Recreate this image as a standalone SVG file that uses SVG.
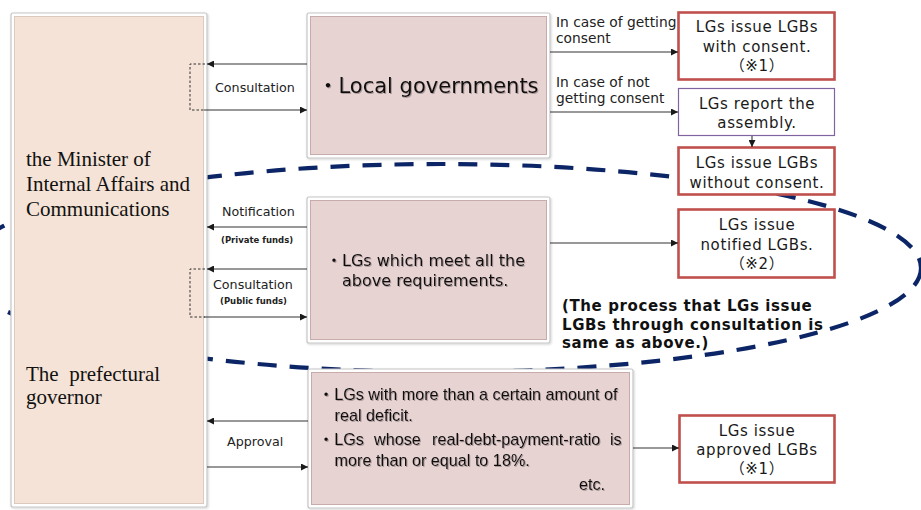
<svg xmlns="http://www.w3.org/2000/svg" width="921" height="510" viewBox="0 0 921 510">
  <defs>
    <marker id="arr" viewBox="0 0 7 7" markerWidth="7" markerHeight="7" refX="7" refY="3.5" orient="auto" markerUnits="userSpaceOnUse">
      <path d="M0,0 L7,3.5 L0,7 z" fill="#1a1a1a"/>
    </marker>
    <filter id="tshadow" x="-5%" y="-20%" width="110%" height="140%">
      <feDropShadow dx="1" dy="1" stdDeviation="0.5" flood-color="#7a6a6a" flood-opacity="0.55"/>
    </filter>
    <filter id="bshadow" x="-5%" y="-5%" width="110%" height="110%">
      <feDropShadow dx="0.8" dy="1" stdDeviation="0.8" flood-color="#000" flood-opacity="0.18"/>
    </filter>
  </defs>
  <style>
    .frame { fill: #ffffff; stroke: #c6c6c6; stroke-width: 1.2; filter: url(#bshadow); }
    .peach { fill: #f4e3d6; stroke: #dccbbd; stroke-width: 1; }
    .pink { fill: #e8d3d3; stroke: #c8acac; stroke-width: 1; }
    .red { fill: #ffffff; stroke: #c0504d; stroke-width: 2.6; }
    .purple { fill: #ffffff; stroke: #8064a2; stroke-width: 1.2; }
    .line { fill: none; stroke: #333333; stroke-width: 1.1; }
    .arrow { fill: none; stroke: #333333; stroke-width: 1.1; marker-end: url(#arr); }
    .bracket { fill: none; stroke: #333333; stroke-width: 1; stroke-dasharray: 2.5 2; }
    .oval { fill: none; stroke: #0b2566; stroke-width: 4.2; stroke-dasharray: 19 13; }
    .serif { font-family: "Liberation Serif", "Times New Roman", serif; font-size: 21px; fill: #111111; }
    .lbl { font-family: "DejaVu Sans", Verdana, sans-serif; font-size: 12.7px; fill: #222222; }
    .case { font-family: "DejaVu Sans", Verdana, sans-serif; font-size: 13.8px; fill: #222222; }
    .tiny { font-family: "DejaVu Sans", Verdana, sans-serif; font-size: 8.5px; font-weight: bold; fill: #222222; }
    .rt { font-family: "DejaVu Sans", Verdana, "Noto Sans CJK JP", sans-serif; font-size: 15px; letter-spacing: 0.6px; fill: #1a1a1a; text-anchor: middle; }
    .big { font-family: "DejaVu Sans", Verdana, "Noto Sans CJK JP", sans-serif; font-size: 21px; fill: #111111; filter: url(#tshadow); }
    .mid { font-family: "DejaVu Sans", Verdana, "Noto Sans CJK JP", sans-serif; font-size: 16px; fill: #111111; filter: url(#tshadow); }
    .ar { font-family: "Liberation Sans", Arial, "Noto Sans CJK JP", sans-serif; font-size: 16.2px; fill: #111111; filter: url(#tshadow); }
    .note { font-family: "DejaVu Sans", Verdana, sans-serif; font-size: 15px; font-weight: bold; letter-spacing: 0.6px; fill: #111111; }
  </style>

  <!-- dashed oval grouping the notification / consultation path -->
  <ellipse class="oval" cx="442" cy="268" rx="479" ry="104"/>

  <!-- issuing authorities -->
  <g id="authority">
    <rect class="frame" x="11" y="13" width="196" height="494" rx="2"/>
    <rect class="peach" x="14.5" y="16.5" width="189" height="487"/>
    <text class="serif" x="26" y="166">the Minister of</text>
    <text class="serif" x="26" y="191">Internal Affairs and</text>
    <text class="serif" x="26" y="216">Communications</text>
    <text class="serif" x="26" y="381" xml:space="preserve">The  prefectural</text>
    <text class="serif" x="26" y="404">governor</text>
  </g>

  <g id="local-governments">
    <rect class="frame" x="307" y="13" width="243" height="145" rx="2"/>
    <rect class="pink" x="310.5" y="16.5" width="236" height="138"/>
    <text class="big" x="317.5" y="93">・Local governments</text>
  </g>

  <g id="qualified-lgs">
    <rect class="frame" x="307" y="197" width="243" height="146" rx="2"/>
    <rect class="pink" x="310.5" y="200.5" width="236" height="139"/>
    <text class="mid" x="326" y="266">・LGs which meet all the</text>
    <text class="mid" x="342" y="286">above requirements.</text>
  </g>

  <g id="deficit-lgs">
    <rect class="frame" x="308" y="369" width="325" height="139" rx="2"/>
    <rect class="pink" x="311.5" y="372.5" width="318" height="132"/>
    <text class="ar" x="318" y="400">・LGs with more than a certain amount of</text>
    <text class="ar" x="334.5" y="421">real deficit.</text>
    <text class="ar" y="445"><tspan x="318">・LGs</tspan><tspan x="374">whose</tspan><tspan x="432">real-debt-payment-ratio</tspan><tspan x="610">is</tspan></text>
    <text class="ar" x="334.5" y="466">more than or equal to 18%.</text>
    <text class="ar" x="579" y="490">etc.</text>
  </g>

  <g id="with-consent">
    <rect class="red" x="678.5" y="12.5" width="156" height="67"/>
    <text class="rt" x="757" y="32">LGs issue LGBs</text>
    <text class="rt" x="757" y="52">with consent.</text>
    <text class="rt" x="757" y="71">（※1）</text>
  </g>

  <g id="report-assembly">
    <rect class="purple" x="678.5" y="88.5" width="156" height="47"/>
    <text class="rt" x="757" y="109">LGs report the</text>
    <text class="rt" x="757" y="128">assembly.</text>
  </g>

  <g id="without-consent">
    <rect class="red" x="678.5" y="147.5" width="156" height="47"/>
    <text class="rt" x="757" y="168">LGs issue LGBs</text>
    <text class="rt" x="757" y="188">without consent.</text>
  </g>

  <g id="notified">
    <rect class="red" x="678.5" y="209.5" width="156" height="68"/>
    <text class="rt" x="757" y="230">LGs issue</text>
    <text class="rt" x="757" y="250">notified LGBs.</text>
    <text class="rt" x="757" y="269">（※2）</text>
  </g>

  <g id="approved">
    <rect class="red" x="679.5" y="415.5" width="155" height="67"/>
    <text class="rt" x="757" y="436">LGs issue</text>
    <text class="rt" x="757" y="455">approved LGBs</text>
    <text class="rt" x="757" y="474">（※1）</text>
  </g>

  <g id="note">
    <text class="note" x="562" y="311">(The process that LGs issue</text>
    <text class="note" x="562" y="330">LGBs through consultation is</text>
    <text class="note" x="562" y="348">same as above.)</text>
  </g>

  <!-- connectors -->
  <g id="connectors">
    <!-- consultation with local governments -->
    <line class="arrow" x1="307" y1="64" x2="207" y2="64"/>
    <line class="arrow" x1="204" y1="110" x2="307" y2="110"/>
    <path class="bracket" d="M205,64 H190 V110 H205"/>
    <text class="lbl" x="215" y="92">Consultation</text>

    <!-- notification / consultation for qualified LGs -->
    <line class="arrow" x1="307" y1="227" x2="207" y2="227"/>
    <text class="lbl" x="222" y="216">Notification</text>
    <text class="tiny" x="221" y="243">(Private funds)</text>
    <line class="arrow" x1="307" y1="269" x2="207" y2="269"/>
    <line class="arrow" x1="204" y1="317" x2="307" y2="317"/>
    <path class="bracket" d="M205,269 H190 V317 H205"/>
    <text class="lbl" x="213" y="289">Consultation</text>
    <text class="tiny" x="220" y="304">(Public funds)</text>

    <!-- approval -->
    <line class="arrow" x1="308" y1="421" x2="207" y2="421"/>
    <line class="arrow" x1="207" y1="467" x2="308" y2="467"/>
    <text class="lbl" x="227" y="446">Approval</text>

    <!-- outcomes -->
    <line class="arrow" x1="550" y1="52" x2="678" y2="52"/>
    <text class="case" x="556" y="27">In case of getting</text>
    <text class="case" x="556" y="43">consent</text>
    <line class="arrow" x1="550" y1="112" x2="678" y2="112"/>
    <text class="case" x="556" y="87">In case of not</text>
    <text class="case" x="556" y="103">getting consent</text>
    <line class="arrow" x1="752" y1="136" x2="752" y2="147"/>
    <line class="arrow" x1="550" y1="243" x2="678" y2="243"/>
    <line class="arrow" x1="633" y1="448" x2="679" y2="448"/>
  </g>
</svg>
